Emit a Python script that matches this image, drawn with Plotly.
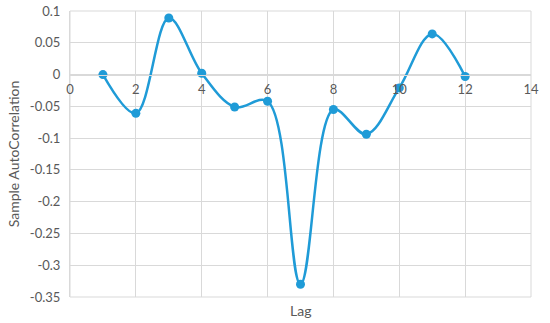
import plotly.graph_objects as go

lags = [1, 2, 3, 4, 5, 6, 7, 8, 9, 10, 11, 12]
acf = [0.0, -0.061, 0.089, 0.002, -0.051, -0.042, -0.330, -0.055, -0.094, -0.021, 0.064, -0.003]

y_ticks = [0.1, 0.05, 0, -0.05, -0.1, -0.15, -0.2, -0.25, -0.3, -0.35]
y_labels = ["0.1", "0.05", "0", "-0.05", "-0.1", "-0.15", "-0.2", "-0.25", "-0.3", "-0.35"]
x_ticks = [0, 2, 4, 6, 8, 10, 12, 14]

blue = "#1f9bd7"
grid = "#d9d9d9"
txt = "#595959"

fig = go.Figure()
fig.add_trace(go.Scatter(
    x=lags, y=acf, mode="lines+markers",
    line=dict(color=blue, width=2.5, shape="spline", smoothing=1),
    marker=dict(color=blue, size=9),
))

ymin, ymax = -0.35, 0.1
fig.update_layout(
    width=550, height=323,
    margin=dict(l=70, r=15, t=11, b=26),
    plot_bgcolor="white", paper_bgcolor="white",
    font=dict(family="Lato", size=13, color=txt),
    showlegend=False,
    xaxis=dict(
        range=[0, 14], tickvals=x_ticks, showgrid=True, gridcolor=grid,
        anchor="free", position=(0 - ymin) / (ymax - ymin),
        showline=True, linecolor=grid, zeroline=False,
        ticks="", ticklabelstandoff=3,
    ),
    yaxis=dict(
        range=[ymin, ymax], tickvals=y_ticks, ticktext=y_labels,
        showgrid=True, gridcolor=grid, zeroline=False,
        showline=True, linecolor=grid, ticks="", ticklabelstandoff=6,
        title=dict(text="Sample AutoCorrelation", standoff=6, font=dict(size=14)),
        automargin=False,
    ),
)
# frame the plot area like Excel gridlines
fig.add_shape(type="rect", xref="paper", yref="paper", x0=0, y0=0, x1=1, y1=1,
              line=dict(color=grid, width=1), layer="below")
fig.add_annotation(text="Lag", xref="paper", yref="paper", x=0.5, y=0,
                   yanchor="middle", yshift=-13, showarrow=False,
                   font=dict(size=14, color=txt))

fig.write_html("out.html", config={"displayModeBar": False},
               post_script="document.body.style.margin='0';")
